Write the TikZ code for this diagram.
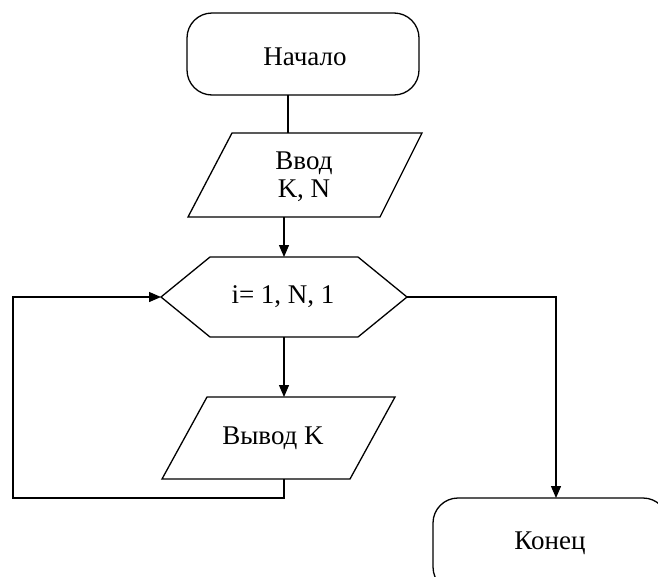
\documentclass[tikz,border=0pt]{standalone}
\usepackage{fontspec}
\setmainfont{Liberation Serif}
\usetikzlibrary{arrows.meta}
\tikzset{
  shapeline/.style={draw=black, line width=1.3pt, line join=miter},
  link/.style={draw=black, line width=1.3pt},
  arrowlink/.style={link, -{Triangle[length=12pt,width=10pt]}},
  label/.style={inner sep=0pt, font=\fontsize{27}{28}\selectfont, align=center}
}
\begin{document}
\begin{tikzpicture}[x=1pt,y=-1pt]
  \useasboundingbox (0,0) rectangle (658,576);
  \clip (0,0) rectangle (658,576);
  \fill[white] (0,0) rectangle (658,576);

  % Start terminal
  \draw[shapeline, rounded corners=25pt] (187,13) rectangle (419,95);
  \node[label] (start) at (305,57) {Начало};
  \coordinate (start-s) at (288,95);

  % Input
  \draw[shapeline] (232,133) -- (422,133) -- (380,217) -- (188,217) -- cycle;
  \node[label] (input) at (304,177) {Ввод\\K, N};
  \coordinate (input-n) at (288,133);
  \coordinate (input-s) at (284,217);

  % Loop header
  \draw[shapeline] (210,257) -- (358,257) -- (407,297) -- (358,337) -- (210,337) -- (161,297) -- cycle;
  \node[label] (loop) at (283,297) {i= 1, N, 1};
  \coordinate (loop-n) at (284,257);
  \coordinate (loop-s) at (284,337);
  \coordinate (loop-w) at (161,297);
  \coordinate (loop-e) at (407,297);

  % Output
  \draw[shapeline] (207,397) -- (395,397) -- (350,479) -- (162,479) -- cycle;
  \node[label] (output) at (273,438) {Вывод K};
  \coordinate (output-n) at (284,397);
  \coordinate (output-s) at (284,479);

  % End terminal
  \draw[shapeline, rounded corners=25pt] (433,498) rectangle (668,592);
  \node[label] (stop) at (550,543) {Конец};
  \coordinate (stop-n) at (556,498);

  % Connectors
  \draw[link] (start-s) -- (input-n);
  \draw[arrowlink] (input-s) -- (loop-n);
  \draw[arrowlink] (loop-s) -- (output-n);
  \draw[arrowlink] (output-s) -- (284,498) -- (13,498) -- (13,297) -- (loop-w);
  \draw[arrowlink] (loop-e) -| (stop-n);
\end{tikzpicture}
\end{document}
